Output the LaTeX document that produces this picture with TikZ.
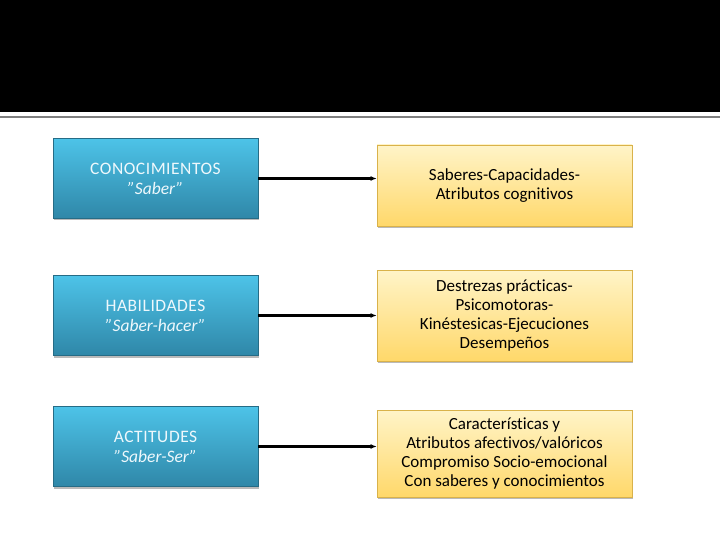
\documentclass[tikz,border=0pt]{standalone}
\usepackage{fontspec}
\setmainfont{Carlito}[Ligatures={ResetAll,NoCommon}]
\usetikzlibrary{shadows,arrows.meta}
\definecolor{bluetop}{HTML}{4DC3E8}
\definecolor{bluebot}{HTML}{2F87A8}
\definecolor{yeltop}{HTML}{FFF4C8}
\definecolor{yelbot}{HTML}{FFD86A}
\definecolor{yelborder}{HTML}{D9B24A}
\definecolor{bluetext}{HTML}{EEF8FC}
\tikzset{
  x=1pt,y=-1pt,
  bluebox/.style={rectangle, minimum width=205pt, minimum height=80pt, inner sep=0pt,
    top color=bluetop, bottom color=bluebot, draw=bluebot!80!black, line width=0.4pt,
    drop shadow={shadow xshift=1pt, shadow yshift=-2pt, fill=black!45, opacity=0.6},
    text=bluetext, align=center, font=\fontsize{17.5}{20}\selectfont},
  yelbox/.style={rectangle, minimum width=255pt, inner sep=0pt,
    top color=yeltop, bottom color=yelbot, draw=yelborder, line width=0.6pt,
    drop shadow={shadow xshift=1pt, shadow yshift=-2pt, fill=black!45, opacity=0.6},
    text=black, align=center, font=\fontsize{17}{19}\selectfont},
  conn/.style={line width=2.2pt, -{Latex[length=6pt,width=5pt]}}
}
\begin{document}
\begin{tikzpicture}
\useasboundingbox (0,0) rectangle (720,540);
\fill[white] (0,0) rectangle (720,540);
\fill[black] (0,0) rectangle (720,112);
\draw[black!50, line width=1.2pt] (0,117) -- (720,117);

\node[bluebox] (b1) at (155.5,178.5) {\addfontfeature{LetterSpace=3}CONOCIMIENTOS\\\textit{"Saber”}};
\node[bluebox] (b2) at (155.5,315.5) {\addfontfeature{LetterSpace=3}HABILIDADES\\\textit{"Saber-hacer”}};
\node[bluebox] (b3) at (155.5,446.5) {\addfontfeature{LetterSpace=3}ACTITUDES\\\textit{"Saber-Ser”}};

\node[yelbox, minimum height=81pt] (y1) at (504.5,185.5) {Saberes-Capacidades-\\Atributos cognitivos};
\node[yelbox, minimum height=91pt] (y2) at (504.5,315.5) {Destrezas prácticas-\\Psicomotoras-\\Kinéstesicas-Ejecuciones\\Desempeños};
\node[yelbox, minimum height=87pt] (y3) at (504.5,453.5) {Características y\\Atributos afectivos/valóricos\\Compromiso Socio-emocional\\Con saberes y conocimientos};

\draw[conn] (b1.east) -- (b1.east -| y1.west);
\draw[conn] (b2.east) -- (b2.east -| y2.west);
\draw[conn] (b3.east) -- (b3.east -| y3.west);
\end{tikzpicture}
\end{document}
